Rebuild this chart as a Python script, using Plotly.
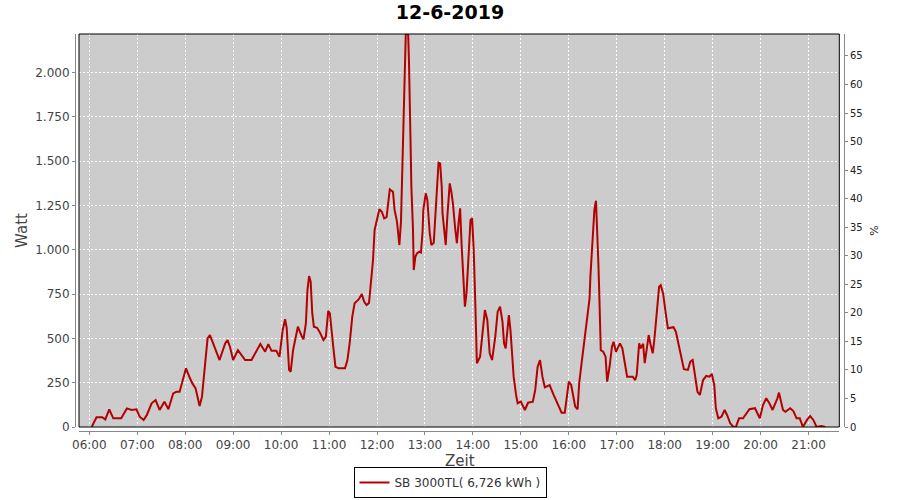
import plotly.graph_objects as go

DAY = "2019-06-12"

times = [
    "06:03", "06:09", "06:16", "06:20", "06:25", "06:30", "06:40", "06:47", "06:53", "06:59",
    "07:03", "07:08", "07:12", "07:18", "07:23", "07:28", "07:34", "07:39", "07:45", "07:49",
    "07:53", "07:56", "08:01", "08:06", "08:09", "08:13", "08:18", "08:21", "08:25", "08:28",
    "08:31", "08:35", "08:39", "08:43", "08:50", "08:53", "08:56", "09:00", "09:06", "09:15",
    "09:23", "09:29", "09:34", "09:40", "09:44", "09:48", "09:54", "09:58", "10:02", "10:05",
    "10:07", "10:10", "10:12", "10:15", "10:19", "10:21", "10:26", "10:28", "10:31", "10:33",
    "10:35", "10:37", "10:39", "10:41", "10:45", "10:48", "10:53", "10:56", "10:59", "11:01",
    "11:05", "11:08", "11:12", "11:20", "11:23", "11:26", "11:29", "11:32", "11:37", "11:41",
    "11:44", "11:47", "11:50", "11:52", "11:55", "11:57", "12:00", "12:03", "12:06", "12:09",
    "12:12", "12:14", "12:16", "12:20", "12:22", "12:25", "12:27", "12:28", "12:30", "12:32",
    "12:33", "12:34", "12:35", "12:36", "12:39", "12:40", "12:42", "12:43", "12:45", "12:46",
    "12:48", "12:50", "12:53", "12:55", "12:57", "12:58", "13:01", "13:03", "13:06", "13:08",
    "13:11", "13:13", "13:15", "13:17", "13:19", "13:21", "13:22", "13:24", "13:26", "13:28",
    "13:31", "13:33", "13:35", "13:38", "13:40", "13:42", "13:44", "13:46", "13:48", "13:50",
    "13:52", "13:55", "13:57", "13:59", "14:01", "14:03", "14:05", "14:09", "14:12", "14:15",
    "14:18", "14:21", "14:24", "14:28", "14:31", "14:34", "14:37", "14:39", "14:41", "14:43",
    "14:45", "14:47", "14:49", "14:51", "14:54", "14:56", "15:00", "15:05", "15:09", "15:15",
    "15:18", "15:21", "15:24", "15:27", "15:30", "15:36", "15:41", "15:45", "15:49", "15:51",
    "15:55", "15:58", "16:00", "16:03", "16:06", "16:08", "16:11", "16:13", "16:16", "16:19",
    "16:22", "16:24", "16:26", "16:27", "16:30", "16:32", "16:34", "16:36", "16:37", "16:38",
    "16:40", "16:43", "16:46", "16:48", "16:51", "16:54", "16:56", "16:59", "17:04", "17:07",
    "17:10", "17:13", "17:20", "17:23", "17:25", "17:28", "17:30", "17:33", "17:35", "17:38",
    "17:40", "17:42", "17:45", "17:47", "17:50", "17:53", "17:55", "17:58", "18:01", "18:04",
    "18:11", "18:14", "18:18", "18:21", "18:24", "18:29", "18:32", "18:35", "18:38", "18:41",
    "18:44", "18:48", "18:52", "18:56", "18:59", "19:02", "19:04", "19:07", "19:11", "19:15",
    "19:18", "19:22", "19:26", "19:29", "19:33", "19:38", "19:46", "19:53", "19:57", "19:59",
    "20:03", "20:07", "20:11", "20:15", "20:21", "20:23", "20:28", "20:31", "20:37", "20:41",
    "20:45", "20:49", "20:53", "20:58", "21:02", "21:06", "21:10", "21:16", "21:21",
]

watt = [
    0, 55, 55, 43, 100, 49, 49, 105, 96, 100,
    58, 40, 68, 134, 152, 96, 143, 100, 190, 199,
    199, 246, 331, 275, 246, 218, 118, 171, 388, 500,
    519, 472, 434, 378, 472, 491, 453, 378, 434, 378,
    378, 425, 468, 425, 468, 430, 430, 397, 547, 608,
    560, 322, 312, 434, 538, 566, 510, 495, 585, 773,
    852, 820, 642, 566, 560, 538, 491, 510, 655, 642,
    463, 340, 331, 331, 378, 481, 622, 698, 720, 750,
    707, 688, 700, 811, 942, 1112, 1178, 1229, 1215, 1178,
    1185, 1281, 1341, 1328, 1225, 1159, 1055, 1027, 1159, 1469,
    1657, 1845, 2015, 2218, 2218, 2062, 1601, 1356, 1121, 886,
    961, 980, 989, 985, 1102, 1225, 1319, 1281, 1093, 1027,
    1040, 1215, 1394, 1492, 1488, 1356, 1206, 1112, 1027, 1187,
    1375, 1328, 1262, 1112, 1037, 1150, 1234, 1017, 867, 679,
    754, 999, 1168, 1178, 999, 698, 360, 397, 547, 660,
    604, 416, 378, 510, 651, 679, 594, 472, 444, 547,
    632, 547, 434, 284, 181, 134, 143, 96, 137, 143,
    209, 340, 378, 284, 224, 237, 181, 143, 106, 81,
    81, 171, 256, 237, 162, 115, 100, 246, 360, 463,
    566, 642, 726, 848, 1055, 1225, 1277, 1093, 924, 773,
    434, 425, 397, 256, 340, 453, 481, 425, 472, 444,
    360, 284, 284, 265, 293, 472, 444, 470, 360, 463,
    519, 472, 416, 491, 660, 792, 801, 754, 651, 557,
    563, 538, 453, 378, 326, 322, 369, 378, 284, 199,
    181, 265, 288, 284, 299, 237, 106, 49, 58, 96,
    68, 21, 0, 0, 49, 49, 100, 106, 68, 49,
    124, 162, 134, 96, 162, 194, 96, 86, 106, 90,
    49, 49, 0, 40, 62, 40, 0, 5, 0,
]

series_name = "SB 3000TL( 6,726 kWh )"
chart_title = "12-6-2019"
x_title = "Zeit"
y_title = "Watt"
y2_title = "%"
watt_range = [0, 2218]
pct_range = [0, 68.85]
x_range = [DAY + " 05:47:07", DAY + " 21:38:28"]

x_vals = [DAY + " " + t + ":00" for t in times]

FONT = "DejaVu Sans"
AXIS_GRAY = "#888888"
LABEL = "#444444"

fig = go.Figure()
fig.add_trace(go.Scatter(
    x=x_vals, y=watt, mode="lines", name=series_name,
    line=dict(color="#B40000", width=2),
))
fig.add_trace(go.Scatter(x=[], y=[], yaxis="y2", showlegend=False, hoverinfo="skip"))

paper_w = 900 - 75 - 56
paper_h = 500 - 34 - 69

fig.update_layout(
    width=900, height=500,
    margin=dict(l=75, r=56, t=34, b=69, pad=0, autoexpand=False),
    paper_bgcolor="white",
    plot_bgcolor="#CCCCCC",
    font=dict(family=FONT, color=LABEL, size=12),
    separators=",.",
    title=dict(text="<b>" + chart_title + "</b>", x=0.5, xref="container", xanchor="center",
               y=1 - 12.5 / 500, yref="container", yanchor="middle", automargin=False,
               font=dict(family=FONT, size=19, color="black")),
    xaxis=dict(
        type="date", domain=[4 / paper_w, (839.3 - 75) / paper_w], anchor="free", position=0,
        range=x_range, tickformat="%H:%M", dtick=3600000, tick0=DAY + " 06:00",
        showgrid=True, gridcolor="white", griddash="2px,2px", gridwidth=1,
        showline=True, linecolor=AXIS_GRAY, linewidth=1, zeroline=False,
        ticks="outside", ticklen=3, tickcolor=AXIS_GRAY, automargin=False,
        tickfont=dict(family=FONT, size=12, color=LABEL),
    ),
    yaxis=dict(
        domain=[4 / paper_h, 1], anchor="free", position=0,
        range=watt_range, dtick=250, tickformat=",d",
        showgrid=True, gridcolor="white", griddash="2px,2px", gridwidth=1,
        showline=True, linecolor=AXIS_GRAY, linewidth=1, zeroline=False,
        ticks="outside", ticklen=3, tickcolor=AXIS_GRAY, automargin=False,
        tickfont=dict(family=FONT, size=12, color=LABEL),
        title=dict(text=y_title, standoff=2, font=dict(family=FONT, size=15, color=LABEL)),
    ),
    yaxis2=dict(
        overlaying="y", side="right", anchor="free", position=1,
        range=pct_range, dtick=5, showgrid=False, zeroline=False,
        showline=True, linecolor=AXIS_GRAY, linewidth=1,
        ticks="outside", ticklen=3, tickcolor=AXIS_GRAY, automargin=False,
        tickfont=dict(family=FONT, size=10, color="#222222"),
        title=dict(text=y2_title, standoff=8, font=dict(family=FONT, size=11, color="#222222")),
    ),
    legend=dict(
        orientation="h", x=0.5, xanchor="center", xref="container",
        y=0.004, yanchor="bottom", yref="container",
        bordercolor="black", borderwidth=1, bgcolor="white",
        font=dict(family=FONT, size=12, color="#333333"),
        itemwidth=30, tracegroupgap=0,
    ),
    showlegend=True,
    annotations=[dict(text=x_title, xref="paper", x=0.5, xanchor="center",
                      yref="paper", y=(431 - 460.5) / paper_h, yanchor="middle",
                      showarrow=False, font=dict(family=FONT, size=15, color=LABEL))],
    shapes=[dict(type="rect", xref="x domain", yref="y domain", x0=0, x1=1, y0=0, y1=1,
                 line=dict(color="black", width=1), fillcolor="rgba(0,0,0,0)", layer="above")],
)

fig.write_html(
    "out.html",
    config={"displayModeBar": False},
    post_script="document.body.style.margin='0';document.body.style.overflow='hidden';",
)
